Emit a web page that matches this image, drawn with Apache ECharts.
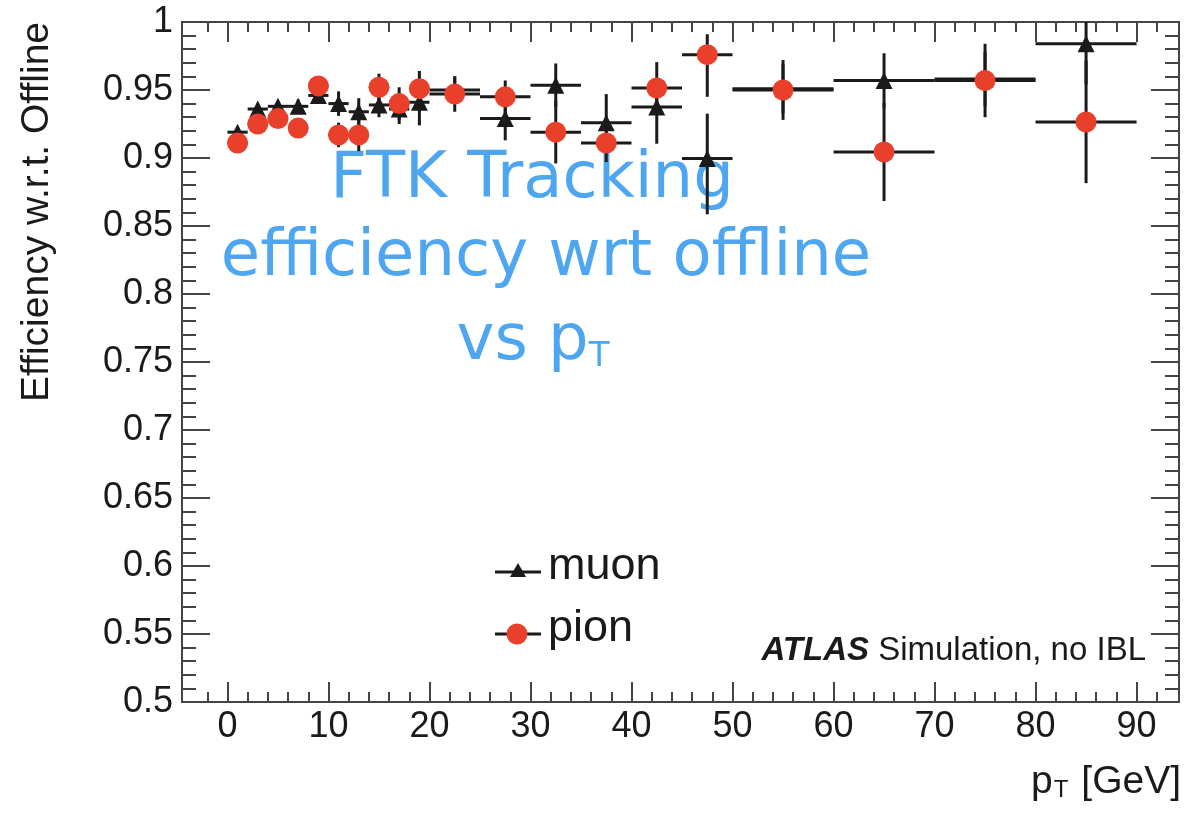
<!DOCTYPE html>
<html>
<head>
<meta charset="utf-8">
<script src="https://cdn.jsdelivr.net/npm/echarts@6/dist/echarts.min.js"></script>
<style>
  html, body { margin: 0; padding: 0; background: #ffffff; }
  #chart { width: 1187px; height: 824px; }
</style>
</head>
<body>
<div id="chart"></div>
<script>
// pT bins (GeV): centres and half widths
const binCenters    = [1, 3, 5, 7, 9, 11, 13, 15, 17, 19, 22.5, 27.5, 32.5, 37.5, 42.5, 47.5, 55, 65, 75, 85];
const binHalfWidths = [1, 1, 1, 1, 1, 1, 1, 1, 1, 1, 2.5, 2.5, 2.5, 2.5, 2.5, 2.5, 5, 5, 5, 5];

// FTK efficiency w.r.t. offline, muons
const muonEff     = [0.919, 0.936, 0.938, 0.938, 0.946, 0.940, 0.934, 0.939, 0.936, 0.941, 0.950, 0.929, 0.9535, 0.926, 0.9375, 0.8996, 0.951, 0.957, 0.958, 0.984];
const muonErrUp   = [0.003, 0.004, 0.004, 0.005, 0.005, 0.009, 0.010, 0.009, 0.011, 0.017, 0.010, 0.015, 0.016, 0.021, 0.019, 0.033, 0.018, 0.020, 0.020, 0.016];
const muonErrDown = [0.003, 0.004, 0.004, 0.005, 0.005, 0.009, 0.010, 0.009, 0.011, 0.017, 0.010, 0.016, 0.016, 0.021, 0.027, 0.041, 0.018, 0.020, 0.020, 0.030];

// FTK efficiency w.r.t. offline, pions
const pionEff     = [0.911, 0.925, 0.929, 0.922, 0.953, 0.917, 0.917, 0.952, 0.940, 0.951, 0.947, 0.945, 0.919, 0.911, 0.9515, 0.976, 0.950, 0.9044, 0.957, 0.9265];
const pionErrUp   = [0.003, 0.004, 0.004, 0.005, 0.005, 0.009, 0.012, 0.010, 0.012, 0.013, 0.013, 0.012, 0.023, 0.014, 0.019, 0.015, 0.022, 0.036, 0.027, 0.045];
const pionErrDown = [0.003, 0.004, 0.004, 0.005, 0.005, 0.009, 0.012, 0.010, 0.012, 0.013, 0.013, 0.012, 0.023, 0.014, 0.019, 0.031, 0.022, 0.036, 0.027, 0.045];

// axis tick labels
const xTickLabels = [0, 10, 20, 30, 40, 50, 60, 70, 80, 90];
const yTickLabels = [0.5, 0.55, 0.6, 0.65, 0.7, 0.75, 0.8, 0.85, 0.9, 0.95, 1];

const X_MIN = -4.5, X_MAX = 94.2, Y_MIN = 0.5, Y_MAX = 1;
const FONT = 'Liberation Sans';
const FRAME = '#444444';
const INK = '#1a1a1a';
const RED = '#e8402b';
const NOTE = '#4fa6f0';

// minor tick positions (every 2 GeV, every 0.01 in efficiency)
const xMinor = [];
for (let v = -2; v <= 92; v += 2) if (v % 10 !== 0) xMinor.push(v);
const yMinor = [];
for (let i = 51; i < 100; i++) if (i % 5 !== 0) yMinor.push(i / 100);

function errRows(eff, up, down) {
  return binCenters.map((x, i) => [x, eff[i], binHalfWidths[i], up[i], down[i]]);
}

// horizontal bin-width bar plus vertical (asymmetric) error bar
function renderErrorBar(params, api) {
  const x = api.value(0), y = api.value(1), hw = api.value(2);
  const up = api.value(3), dn = api.value(4);
  const left = api.coord([x - hw, y]);
  const right = api.coord([x + hw, y]);
  const top = api.coord([x, y + up]);
  const bottom = api.coord([x, y - dn]);
  const style = { stroke: INK, lineWidth: 3 };
  return {
    type: 'group',
    children: [
      { type: 'line', shape: { x1: left[0], y1: left[1], x2: right[0], y2: right[1] }, style },
      { type: 'line', shape: { x1: top[0], y1: top[1], x2: bottom[0], y2: bottom[1] }, style }
    ]
  };
}

function xAxisDef(position, values, length, withLine, withLabels) {
  return {
    type: 'value', position, min: X_MIN, max: X_MAX,
    axisLine: { show: withLine, onZero: false, lineStyle: { color: FRAME, width: 2 } },
    axisTick: { show: true, inside: true, length, customValues: values, lineStyle: { color: FRAME, width: 2 } },
    axisLabel: withLabels
      ? { show: true, customValues: values, fontSize: 36, fontFamily: FONT, color: INK, margin: 7 }
      : { show: false },
    splitLine: { show: false }
  };
}

function yAxisDef(position, values, length, withLine, withLabels) {
  return {
    type: 'value', position, min: Y_MIN, max: Y_MAX,
    axisLine: { show: withLine, onZero: false, lineStyle: { color: FRAME, width: 2 } },
    axisTick: { show: true, inside: true, length, customValues: values, lineStyle: { color: FRAME, width: 2 } },
    axisLabel: withLabels
      ? { show: true, customValues: values, fontSize: 36, fontFamily: FONT, color: INK, margin: 9,
          formatter: v => String(+v.toFixed(2)) }
      : { show: false },
    splitLine: { show: false }
  };
}

const chart = echarts.init(document.getElementById('chart'), null, { renderer: 'canvas' });

const option = {
  backgroundColor: '#ffffff',
  animation: false,
  grid: { left: 182, right: 8, top: 22, bottom: 122, containLabel: false },
  xAxis: [
    xAxisDef('bottom', xTickLabels, 20, true, true),
    xAxisDef('bottom', xMinor, 10, false, false),
    xAxisDef('top', xTickLabels, 20, true, false),
    xAxisDef('top', xMinor, 10, false, false)
  ],
  yAxis: [
    yAxisDef('left', yTickLabels, 28, true, true),
    yAxisDef('left', yMinor, 14, false, false),
    yAxisDef('right', yTickLabels, 28, true, false),
    yAxisDef('right', yMinor, 14, false, false)
  ],
  series: [
    {
      name: 'muon errors', type: 'custom', renderItem: renderErrorBar, z: 2,
      encode: { x: 0, y: 1 }, data: errRows(muonEff, muonErrUp, muonErrDown), silent: true
    },
    {
      name: 'pion errors', type: 'custom', renderItem: renderErrorBar, z: 2,
      encode: { x: 0, y: 1 }, data: errRows(pionEff, pionErrUp, pionErrDown), silent: true
    },
    {
      name: 'muon', type: 'scatter', z: 3, symbol: 'triangle', symbolSize: 17,
      itemStyle: { color: INK, opacity: 1 },
      data: binCenters.map((x, i) => [x, muonEff[i]])
    },
    {
      name: 'pion', type: 'scatter', z: 4, symbol: 'circle', symbolSize: 21,
      itemStyle: { color: RED, opacity: 1 },
      data: binCenters.map((x, i) => [x, pionEff[i]])
    }
  ],
  graphic: [
    // y axis title
    {
      type: 'text', x: 37, y: 212, rotation: Math.PI / 2,
      style: { text: 'Efficiency w.r.t. Offline', fontSize: 39, fontFamily: FONT, fill: INK,
               align: 'center', verticalAlign: 'middle' }
    },
    // x axis title
    {
      type: 'text', x: 1181, y: 802,
      style: {
        text: '{p|p}{t|T}{g| [GeV]}', align: 'right', verticalAlign: 'bottom',
        rich: {
          p: { fontSize: 39, fontFamily: FONT, fill: INK, verticalAlign: 'bottom' },
          t: { fontSize: 24, fontFamily: FONT, fill: INK, verticalAlign: 'bottom', padding: [0, 2, 0, 1], lineHeight: 16 },
          g: { fontSize: 39, fontFamily: FONT, fill: INK, verticalAlign: 'bottom' }
        }
      }
    },
    // legend
    { type: 'line', shape: { x1: 495, y1: 572, x2: 541, y2: 572 }, style: { stroke: INK, lineWidth: 3 } },
    { type: 'polygon', shape: { points: [[518, 563], [526, 577], [510, 577]] }, style: { fill: INK } },
    { type: 'text', x: 548, y: 567, style: { text: 'muon', fontSize: 45, fontFamily: FONT, fill: INK, verticalAlign: 'middle' } },
    { type: 'line', shape: { x1: 495, y1: 634, x2: 541, y2: 634 }, style: { stroke: INK, lineWidth: 3 } },
    { type: 'circle', shape: { cx: 517, cy: 634, r: 10.5 }, style: { fill: RED } },
    { type: 'text', x: 548, y: 629, style: { text: 'pion', fontSize: 45, fontFamily: FONT, fill: INK, verticalAlign: 'middle' } },
    // experiment label
    {
      type: 'text', x: 1146, y: 651,
      style: {
        text: '{a|ATLAS}{b| Simulation, no IBL}', align: 'right', verticalAlign: 'middle',
        rich: {
          a: { fontSize: 33, fontFamily: FONT, fontWeight: 'bold', fontStyle: 'italic', fill: INK },
          b: { fontSize: 33, fontFamily: FONT, fill: INK }
        }
      }
    },
    // hand-written annotation
    {
      type: 'text', x: 532, y: 180,
      style: { text: 'FTK Tracking', fontSize: 64, fontFamily: 'DejaVu Sans', fill: NOTE,
               align: 'center', verticalAlign: 'middle' }
    },
    {
      type: 'text', x: 546, y: 258,
      style: { text: 'efficiency wrt offline', fontSize: 64, fontFamily: 'DejaVu Sans', fill: NOTE,
               align: 'center', verticalAlign: 'middle' }
    },
    {
      type: 'text', x: 533, y: 374,
      style: {
        text: '{a|vs p}{b|T}', align: 'center', verticalAlign: 'bottom',
        rich: {
          a: { fontSize: 64, fontFamily: 'DejaVu Sans', fill: NOTE, verticalAlign: 'bottom' },
          b: { fontSize: 34, fontFamily: 'DejaVu Sans', fill: NOTE, verticalAlign: 'bottom', lineHeight: 30 }
        }
      }
    }
  ]
};

chart.setOption(option);
</script>
</body>
</html>
